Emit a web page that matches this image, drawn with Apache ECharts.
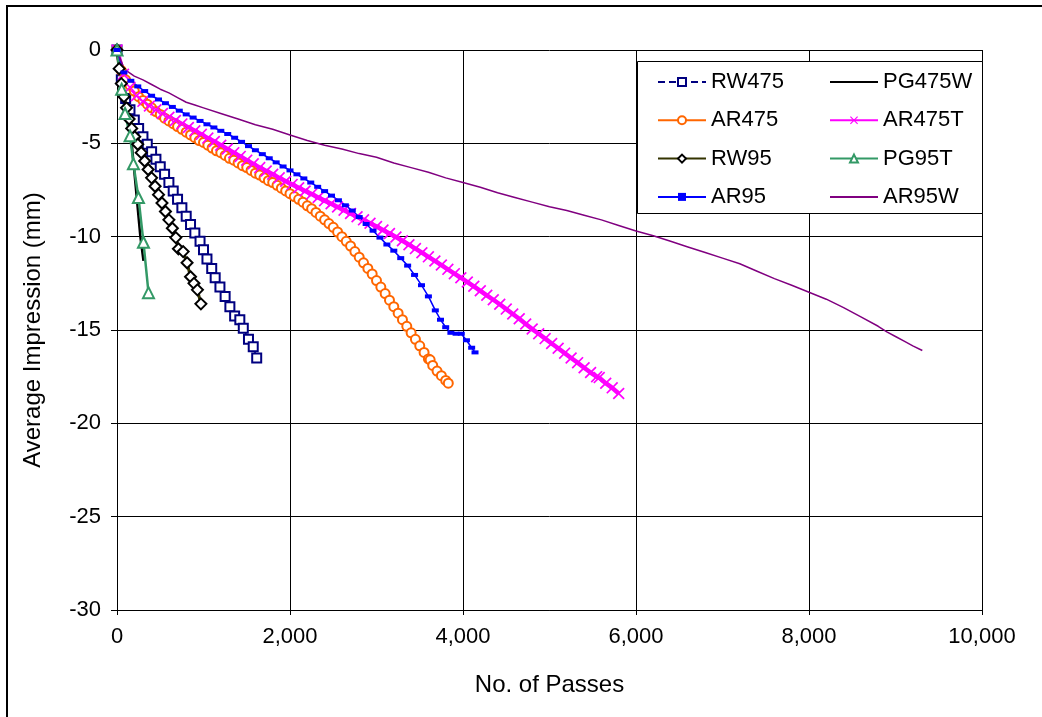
<!DOCTYPE html>
<html>
<head>
<meta charset="utf-8">
<script src="https://cdn.jsdelivr.net/npm/echarts@6/dist/echarts.min.js"></script>
<style>
html,body{margin:0;padding:0;background:#fff;}
#chart{width:1042px;height:717px;}
</style>
</head>
<body>
<div id="chart"></div>
<script>
// ---- Data (No. of Passes, Average Impression mm) ----
const seriesNames = ['RW475','PG475W','AR475','AR475T','RW95','PG95T','AR95','AR95W'];
const xTicks = [0, 2000, 4000, 6000, 8000, 10000];
const yTicks = [0, -5, -10, -15, -20, -25, -30];

const rw475 = [[0,0],[50,-1.6],[100,-2.6],[150,-3.2],[200,-3.75],[250,-4.2],[300,-4.65],[350,-5.05],[400,-5.45],[450,-5.85],[500,-6.25],[550,-6.65],[600,-7.1],[650,-7.55],[700,-8.0],[750,-8.45],[800,-8.9],[850,-9.35],[900,-9.8],[960,-10.25],[1000,-10.7],[1040,-11.2],[1095,-11.7],[1135,-12.2],[1190,-12.7],[1250,-13.2],[1305,-13.75],[1360,-14.25],[1420,-14.45],[1460,-14.9],[1520,-15.5],[1575,-15.9],[1615,-16.5]];

const pg475w = [[0,0],[30,-1.2],[60,-2.1],[92,-3.0],[130,-3.9],[170,-5.0],[220,-7.5],[270,-10.0],[306,-11.3]];

const ar475 = [[0,0],[50,-1.1],[100,-1.6],[150,-1.9],[200,-2.2],[250,-2.5],[300,-2.7],[350,-2.9],[400,-3.1],[450,-3.3],[500,-3.45],[550,-3.65],[600,-3.8],[650,-3.95],[700,-4.1],[750,-4.25],[800,-4.4],[850,-4.55],[900,-4.7],[950,-4.85],[1000,-4.95],[1050,-5.1],[1100,-5.25],[1150,-5.4],[1200,-5.5],[1250,-5.65],[1300,-5.8],[1350,-5.9],[1400,-6.05],[1450,-6.2],[1500,-6.3],[1550,-6.45],[1600,-6.6],[1650,-6.7],[1700,-6.85],[1750,-7.0],[1800,-7.1],[1850,-7.25],[1900,-7.4],[1950,-7.55],[2000,-7.7],[2050,-7.85],[2100,-8.0],[2150,-8.15],[2200,-8.35],[2250,-8.5],[2300,-8.7],[2350,-8.9],[2400,-9.1],[2450,-9.3],[2500,-9.5],[2550,-9.75],[2600,-10.0],[2650,-10.25],[2700,-10.5],[2750,-10.8],[2800,-11.1],[2850,-11.4],[2900,-11.7],[2950,-12.0],[3000,-12.35],[3050,-12.7],[3100,-13.05],[3150,-13.4],[3200,-13.75],[3250,-14.1],[3300,-14.45],[3350,-14.8],[3400,-15.15],[3450,-15.5],[3500,-15.85],[3550,-16.2],[3600,-16.55],[3620,-16.6],[3650,-16.9],[3700,-17.2],[3750,-17.45],[3800,-17.7],[3830,-17.85]];

const ar475t = [[0,0],[75,-1.3],[150,-2.0],[225,-2.45],[300,-2.75],[375,-3.0],[450,-3.2],[525,-3.4],[600,-3.6],[675,-3.78],[750,-3.96],[825,-4.15],[900,-4.33],[975,-4.52],[1050,-4.72],[1125,-4.9],[1200,-5.1],[1275,-5.3],[1350,-5.5],[1425,-5.7],[1500,-5.9],[1575,-6.1],[1650,-6.3],[1725,-6.48],[1800,-6.66],[1875,-6.85],[1950,-7.03],[2025,-7.2],[2100,-7.38],[2175,-7.55],[2250,-7.72],[2325,-7.9],[2400,-8.07],[2475,-8.24],[2550,-8.41],[2625,-8.58],[2700,-8.76],[2775,-8.93],[2850,-9.1],[2925,-9.28],[3000,-9.46],[3075,-9.64],[3150,-9.83],[3225,-10.02],[3300,-10.22],[3375,-10.43],[3450,-10.64],[3525,-10.86],[3600,-11.08],[3675,-11.3],[3750,-11.52],[3825,-11.75],[3900,-11.98],[3975,-12.2],[4050,-12.43],[4125,-12.66],[4200,-12.9],[4275,-13.14],[4350,-13.38],[4425,-13.62],[4500,-13.88],[4575,-14.14],[4650,-14.4],[4725,-14.68],[4800,-14.95],[4875,-15.2],[4950,-15.46],[5025,-15.72],[5100,-15.98],[5175,-16.24],[5250,-16.5],[5325,-16.75],[5400,-17.02],[5475,-17.28],[5545,-17.5],[5575,-17.55],[5650,-17.85],[5725,-18.1],[5800,-18.4]];

const rw95 = [[0,0],[25,-1.0],[50,-1.8],[80,-2.5],[110,-3.1],[140,-3.7],[170,-4.2],[205,-4.65],[240,-5.05],[280,-5.5],[320,-5.95],[360,-6.4],[400,-6.85],[440,-7.3],[480,-7.75],[520,-8.2],[560,-8.65],[600,-9.1],[640,-9.55],[680,-10.05],[710,-10.65],[765,-10.8],[810,-11.4],[850,-12.15],[890,-12.5],[930,-12.85],[970,-13.6]];

const pg95t = [[0,0],[54,-2.1],[93,-3.4],[151,-4.6],[190,-6.1],[248,-7.9],[306,-10.3],[364,-13.0]];

const ar95 = [[0,0],[80,-1.2],[160,-1.65],[240,-1.95],[320,-2.2],[400,-2.45],[480,-2.65],[560,-2.85],[640,-3.05],[720,-3.25],[800,-3.45],[880,-3.62],[960,-3.8],[1040,-3.98],[1120,-4.15],[1200,-4.33],[1280,-4.5],[1360,-4.7],[1440,-4.92],[1520,-5.15],[1600,-5.37],[1680,-5.58],[1760,-5.8],[1840,-6.02],[1920,-6.24],[2000,-6.45],[2080,-6.66],[2160,-6.88],[2240,-7.1],[2320,-7.33],[2400,-7.56],[2480,-7.8],[2560,-8.05],[2640,-8.32],[2720,-8.6],[2800,-8.95],[2880,-9.32],[2960,-9.68],[3040,-10.05],[3120,-10.42],[3200,-10.75],[3280,-11.15],[3360,-11.55],[3440,-12.05],[3520,-12.6],[3600,-13.2],[3680,-13.95],[3740,-14.45],[3800,-14.85],[3860,-15.15],[3920,-15.2],[3980,-15.2],[4040,-15.55],[4100,-15.95],[4139,-16.2]];

const ar95w = [[0,0],[40,-0.5],[80,-0.95],[120,-1.15],[200,-1.4],[300,-1.6],[400,-1.85],[500,-2.1],[600,-2.3],[700,-2.55],[800,-2.8],[900,-2.95],[1000,-3.1],[1200,-3.4],[1400,-3.7],[1600,-4.0],[1800,-4.25],[2000,-4.55],[2200,-4.85],[2400,-5.1],[2600,-5.3],[2800,-5.55],[3000,-5.75],[3200,-6.05],[3400,-6.3],[3600,-6.55],[3800,-6.85],[4000,-7.1],[4200,-7.35],[4400,-7.65],[4600,-7.9],[4800,-8.15],[5000,-8.4],[5200,-8.6],[5400,-8.85],[5600,-9.1],[5800,-9.4],[6000,-9.7],[6200,-9.95],[6400,-10.25],[6600,-10.55],[6800,-10.85],[7000,-11.15],[7200,-11.45],[7400,-11.85],[7600,-12.25],[7800,-12.6],[8000,-12.98],[8200,-13.35],[8400,-13.8],[8600,-14.3],[8800,-14.8],[8900,-15.1],[9000,-15.35],[9100,-15.6],[9200,-15.85],[9310,-16.1]];

// ---- Chart ----
const FONT = '"Liberation Sans", Arial, sans-serif';
const FS = 22;
const xSymbol = 'path://M0,1 L1,0 L5,4 L9,0 L10,1 L6,5 L10,9 L9,10 L5,6 L1,10 L0,9 L4,5 Z';
const fmtThousands = v => String(v).replace(/\B(?=(\d{3})+(?!\d))/g, ',');

const chart = echarts.init(document.getElementById('chart'), null, {renderer: 'canvas'});

function line(name, data, color, width, opts) {
  return Object.assign({
    name: name, type: 'line', data: data,
    showAllSymbol: true, animation: false,
    lineStyle: {color: color, width: width},
    itemStyle: {color: color, borderWidth: 1.2},
    emphasis: {disabled: true},
    z: 2
  }, opts || {});
}

const legendText = {fontSize: FS, fontFamily: FONT, color: '#000', lineHeight: 22};
const noMark = {opacity: 0};

chart.setOption({
  animation: false,
  backgroundColor: '#fff',
  grid: {left: 117, top: 50, right: 60, bottom: 107, containLabel: false},
  xAxis: {
    type: 'value', min: xTicks[0], max: xTicks[xTicks.length-1], interval: 2000,
    name: 'No. of Passes', nameLocation: 'middle', nameGap: 63,
    nameTextStyle: {fontSize: 24, fontFamily: FONT, color: '#000'},
    axisLine: {show: true, onZero: false, lineStyle: {color: '#000', width: 1}},
    axisTick: {show: true, length: 5, inside: false, lineStyle: {color: '#000'}},
    axisLabel: {fontSize: FS, fontFamily: FONT, color: '#000', margin: 16, formatter: fmtThousands},
    splitLine: {show: true, lineStyle: {color: '#000', width: 1}}
  },
  yAxis: {
    type: 'value', min: yTicks[yTicks.length-1], max: yTicks[0], interval: 5,
    name: 'Average Impression (mm)', nameLocation: 'middle', nameGap: 72, nameRotate: 90,
    nameTextStyle: {fontSize: 24, fontFamily: FONT, color: '#000'},
    axisLine: {show: true, onZero: false, lineStyle: {color: '#000', width: 1}},
    axisTick: {show: true, length: 6, inside: false, lineStyle: {color: '#000'}},
    axisLabel: {fontSize: FS, fontFamily: FONT, color: '#000', margin: 16},
    splitLine: {show: true, lineStyle: {color: '#000', width: 1}}
  },
  legend: [
    {data: ['RW475','AR475','RW95','AR95'], orient: 'vertical', left: 652, top: 66,
     itemWidth: 48, itemHeight: 10, itemGap: 16.3, textStyle: legendText, selectedMode: false, z: 5},
    {data: [{name: 'PG475W', itemStyle: noMark}, 'AR475T', 'PG95T', {name: 'AR95W', itemStyle: noMark}],
     orient: 'vertical', left: 824, top: 66,
     itemWidth: 48, itemHeight: 10, itemGap: 16.3, textStyle: legendText, selectedMode: false, z: 5}
  ],
  graphic: [
    {type: 'rect', z: 4, shape: {x: 637.5, y: 61.5, width: 345, height: 152},
     style: {fill: '#fff', stroke: '#000', lineWidth: 1}},
    {type: 'rect', z: 10, shape: {x: 7, y: 6, width: 1060, height: 740},
     style: {fill: 'none', stroke: '#000', lineWidth: 2}}
  ],
  series: [
    line('RW475', rw475, '#000080', 1.5, {symbol: 'emptyRect', symbolSize: 9,
      lineStyle: {color: '#000080', width: 1.5, type: [7, 4]}}),
    line('PG475W', pg475w, '#000000', 2.5, {symbol: 'none'}),
    line('AR475', ar475, '#FF6600', 1.5, {symbol: 'emptyCircle', symbolSize: 9}),
    line('AR475T', ar475t, '#FF00FF', 4.5, {symbol: xSymbol, symbolSize: 12,
      itemStyle: {color: '#FF00FF', borderWidth: 0}}),
    line('RW95', rw95, '#333300', 3, {symbol: 'emptyDiamond', symbolSize: 11,
      itemStyle: {color: '#000000', borderWidth: 1.2}}),
    line('PG95T', pg95t, '#339966', 2.5, {symbol: 'emptyTriangle', symbolSize: 11}),
    line('AR95', ar95, '#0000FF', 1.5, {symbol: 'rect', symbolSize: [7, 4],
      itemStyle: {color: '#0000FF', borderWidth: 0}}),
    line('AR95W', ar95w, '#800080', 1.5, {symbol: 'none'})
  ]
});
</script>
</body>
</html>
